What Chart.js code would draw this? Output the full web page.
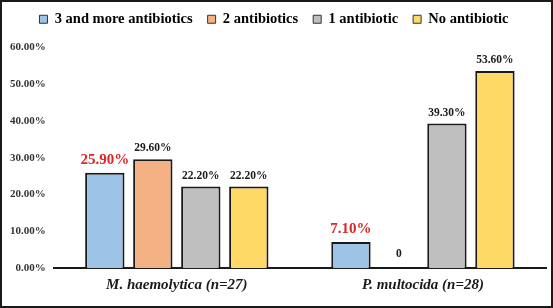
<!DOCTYPE html>
<html><head><meta charset="utf-8">
<script src="https://cdn.jsdelivr.net/npm/chart.js@4"></script>
<style>
html,body{margin:0;padding:0;background:#fff;}
#wrap{position:absolute;left:0;top:0;width:553px;height:308px;box-sizing:border-box;border:2px solid #1a1a1a;}
</style></head>
<body><div id="wrap"><canvas id="c" width="549" height="304"></canvas></div>
<script>
const categories = ["M. haemolytica (n=27)", "P. multocida (n=28)"];
const seriesNames = ["3 and more antibiotics", "2 antibiotics", "1 antibiotic", "No antibiotic"];
const threeMore = [25.9, 7.1];
const twoAb = [29.6, 0];
const oneAb = [22.2, 39.3];
const noAb = [22.2, 53.6];
const colors = ["#9DC3E6", "#F4B183", "#BFBFBF", "#FFD966"];
const yTicks = [0, 10, 20, 30, 40, 50, 60];

const labelPlugin = {
  id: 'valLabels',
  afterDatasetsDraw(chart) {
    const ctx = chart.ctx;
    chart.data.datasets.forEach((ds, i) => {
      const meta = chart.getDatasetMeta(i);
      meta.data.forEach((bar, j) => {
        const v = ds.data[j];
        const txt = v === 0 ? "0" : v.toFixed(2) + "%";
        ctx.save();
        ctx.textAlign = 'center';
        ctx.textBaseline = 'bottom';
        if (i === 0) {
          ctx.fillStyle = '#E02424';
          ctx.font = 'bold 15px "Liberation Serif"';
        } else {
          ctx.fillStyle = '#1a1a1a';
          ctx.font = 'bold 11.5px "Liberation Serif"';
        }
        ctx.fillText(txt, bar.x, bar.y - (v === 0 ? 8 : 5));
        ctx.restore();
      });
    });
  }
};

const legendSpacer = {
  id: 'legendSpacer',
  beforeInit(chart) {
    const orig = chart.legend.fit;
    chart.legend.fit = function () { orig.call(this); this.height += 11; };
  }
};

new Chart(document.getElementById('c'), {
  type: 'bar',
  data: {
    labels: categories,
    datasets: [threeMore, twoAb, oneAb, noAb].map((d, i) => ({
      label: seriesNames[i],
      data: d,
      backgroundColor: colors[i],
      borderColor: '#1a1a1a',
      borderWidth: 2,
      borderSkipped: 'bottom',
      categoryPercentage: 0.78,
      barPercentage: 0.82
    }))
  },
  options: {
    responsive: false,
    animation: false,
    layout: { padding: { left: 0, right: 5, top: -5, bottom: 4 } },
    plugins: {
      legend: {
        position: 'top',
        labels: {
          boxWidth: 8, boxHeight: 8, padding: 15,
          color: '#1a1a1a',
          font: { family: '"Liberation Serif"', size: 14.5, weight: 'bold' },
          generateLabels(chart) {
            return chart.data.datasets.map((ds, i) => ({
              text: ds.label, fillStyle: ds.backgroundColor, strokeStyle: '#333',
              lineWidth: 1, datasetIndex: i, hidden: false
            }));
          }
        }
      },
      tooltip: { enabled: false }
    },
    scales: {
      x: {
        grid: { display: false, drawTicks: false },
        border: { display: true, color: '#1a1a1a', width: 2 },
        ticks: {
          color: '#1a1a1a', padding: 8,
          font: { family: '"Liberation Serif"', size: 15, weight: 'bold', style: 'italic' }
        }
      },
      y: {
        min: 0, max: 60,
        afterBuildTicks(axis) { axis.ticks = yTicks.map(v => ({ value: v })); },
        grid: { display: false, drawTicks: false },
        border: { display: false },
        ticks: {
          color: '#333', padding: 8,
          font: { family: '"Liberation Serif"', size: 11, weight: 'bold' },
          callback: v => v.toFixed(2) + '%'
        }
      }
    }
  },
  plugins: [labelPlugin, legendSpacer]
});
</script></body></html>
